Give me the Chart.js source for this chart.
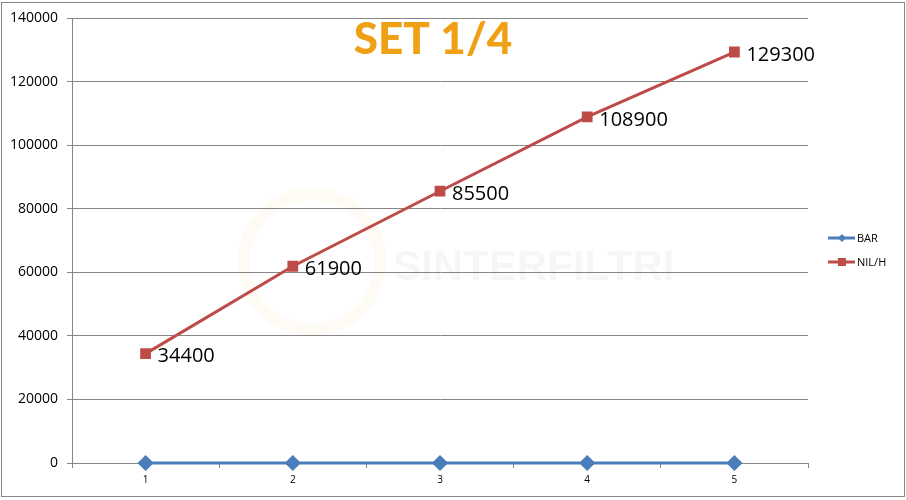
<!DOCTYPE html>
<html>
<head>
<meta charset="utf-8">
<script src="https://cdn.jsdelivr.net/npm/chart.js@4"></script>
<style>
  html, body { margin: 0; padding: 0; background: #fff; }
  #wrap { width: 906px; height: 500px; }
</style>
</head>
<body>
<div id="wrap"><canvas id="setChart" width="906" height="500"></canvas></div>
<script>
// chart data
const categories = ["1", "2", "3", "4", "5"];
const barValues = [0, 0, 0, 0, 0];
const nilValues = [34400, 61900, 85500, 108900, 129300];
const seriesNames = ["BAR", "NIL/H"];
const yTicks = [0, 20000, 40000, 60000, 80000, 100000, 120000, 140000];

const blue = "#4A7EBB";
const red = "#BE4B48";
const gridGray = "#868686";

// frame, watermark, title, labels and legend drawn on the canvas
const extras = {
    id: "extras",
    beforeDraw(chart) {
        const ctx = chart.ctx;
        ctx.save();
        ctx.fillStyle = "#fff";
        ctx.fillRect(0, 0, chart.width, chart.height);
        ctx.strokeStyle = gridGray;
        ctx.lineWidth = 1;
        ctx.strokeRect(1.5, 2.5, 903, 494);
        // faint watermark
        ctx.strokeStyle = "rgba(240,160,20,0.045)";
        ctx.lineWidth = 12;
        ctx.beginPath();
        ctx.arc(312, 262, 68, 0, Math.PI * 2);
        ctx.stroke();
        ctx.fillStyle = "rgba(0,0,0,0.035)";
        ctx.font = "bold 42px 'Liberation Sans'";
        ctx.textAlign = "left";
        ctx.textBaseline = "alphabetic";
        ctx.fillText("SINTERFILTRI", 393, 280);
        ctx.restore();
    },
    afterDatasetsDraw(chart) {
        const ctx = chart.ctx;
        ctx.save();
        // value labels on NIL/H
        const meta = chart.getDatasetMeta(1);
        ctx.fillStyle = "#000";
        ctx.font = "20px 'Open Sans'";
        ctx.textAlign = "left";
        ctx.textBaseline = "middle";
        meta.data.forEach((pt, i) => {
            ctx.fillText(String(nilValues[i]), pt.x + 12, pt.y + 3);
        });
        // title
        ctx.fillStyle = "#F0A014";
        ctx.font = "900 44px Lato";
        ctx.textAlign = "center";
        ctx.textBaseline = "middle";
        ctx.fillText("SET 1/4", 433, 40);
        // legend
        const items = [
            { name: seriesNames[0], color: blue, y: 238, shape: "diamond" },
            { name: seriesNames[1], color: red, y: 262, shape: "square" }
        ];
        ctx.font = "11px 'Open Sans'";
        ctx.textAlign = "left";
        items.forEach(it => {
            ctx.strokeStyle = it.color;
            ctx.lineWidth = 3;
            ctx.beginPath();
            ctx.moveTo(828, it.y);
            ctx.lineTo(855, it.y);
            ctx.stroke();
            ctx.fillStyle = it.color;
            if (it.shape === "diamond") {
                ctx.beginPath();
                ctx.moveTo(842, it.y - 4);
                ctx.lineTo(846, it.y);
                ctx.lineTo(842, it.y + 4);
                ctx.lineTo(838, it.y);
                ctx.closePath();
                ctx.fill();
            } else {
                ctx.fillRect(838, it.y - 4, 8, 8);
            }
            ctx.fillStyle = "#000";
            ctx.fillText(it.name, 857, it.y + 1);
        });
        ctx.restore();
    }
};

new Chart("setChart", {
    type: "line",
    data: {
        labels: categories,
        datasets: [{
            label: seriesNames[0],
            data: barValues,
            borderColor: blue,
            backgroundColor: blue,
            borderWidth: 3,
            pointStyle: "rectRot",
            pointRadius: 6,
            pointHoverRadius: 6,
            tension: 0,
            clip: false
        }, {
            label: seriesNames[1],
            data: nilValues,
            borderColor: red,
            backgroundColor: red,
            borderWidth: 3,
            pointStyle: "rect",
            pointRadius: 5.5,
            pointHoverRadius: 5.5,
            tension: 0,
            clip: false
        }]
    },
    options: {
        responsive: false,
        animation: false,
        devicePixelRatio: 1,
        layout: { padding: { left: 0, top: 18, right: 98, bottom: 0 } },
        plugins: {
            legend: { display: false },
            title: { display: false },
            tooltip: { enabled: false }
        },
        scales: {
            x: {
                offset: true,
                grid: {
                    offset: true,
                    drawOnChartArea: false,
                    drawTicks: true,
                    tickLength: 5,
                    color: gridGray
                },
                border: { color: gridGray, width: 1 },
                ticks: {
                    color: "#000",
                    font: { family: "Open Sans", size: 10 },
                    padding: 6
                },
                afterFit(scale) { scale.height = 37; }
            },
            y: {
                min: 0,
                max: 140000,
                afterBuildTicks(scale) { scale.ticks = yTicks.map(v => ({ value: v })); },
                grid: {
                    color: gridGray,
                    tickLength: 5,
                    drawTicks: true
                },
                border: { color: gridGray, width: 1 },
                ticks: {
                    color: "#000",
                    font: { family: "Open Sans", size: 14 },
                    padding: 9,
                    callback: v => String(v)
                },
                afterFit(scale) { scale.width = 72; }
            }
        }
    },
    plugins: [extras]
});
</script>
</body>
</html>
